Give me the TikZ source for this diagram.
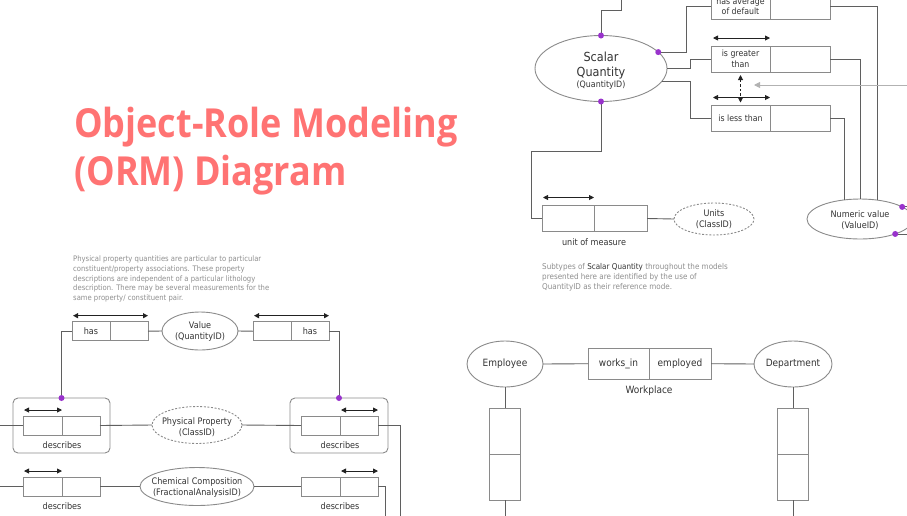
\documentclass[tikz,border=0pt]{standalone}
\usepackage{fontspec}
\setmainfont{DejaVu Sans}[FakeStretch=0.9]
\newfontfamily\titlefont{Open Sans}[FakeStretch=0.9]
\usetikzlibrary{shapes.geometric,arrows.meta}
\definecolor{linec}{HTML}{5F5F5F}
\definecolor{boxc}{HTML}{8A8A8A}
\definecolor{txtc}{HTML}{333333}
\definecolor{notec}{HTML}{8E8E8E}
\definecolor{dotc}{HTML}{9933CC}
\definecolor{titlec}{HTML}{FF7373}
\definecolor{arrc}{HTML}{222222}
\begin{document}
\begin{tikzpicture}[x=1pt,y=-1pt,
 conn/.style={draw=linec, line width=0.9pt},
 cell/.style={draw=boxc, line width=0.9pt, rectangle, inner sep=0pt, outer sep=0pt, text=txtc, font=\fontsize{9}{11}\selectfont, align=center},
 ell/.style={draw=boxc, line width=0.9pt, ellipse, inner sep=0pt, outer sep=0pt},
 dell/.style={ell, dash pattern=on 2pt off 1.6pt},
 lbl/.style={text=txtc, font=\fontsize{9}{11}\selectfont, align=center, inner sep=0pt},
 uarr/.style={draw=arrc, line width=0.9pt, {Triangle[length=5pt,width=5pt]}-{Triangle[length=5pt,width=5pt]}},
 grp/.style={draw=boxc, line width=0.9pt, rounded corners=5pt, rectangle, inner sep=0pt, outer sep=0pt},
 note/.style={text=notec, align=left, inner sep=0pt, anchor=north west},
 titlet/.style={text=titlec, anchor=base west, inner sep=0pt, font=\titlefont\bfseries\fontsize{40}{48}\selectfont},
 dotm/.style={fill=dotc}
]
\useasboundingbox (0,0) rectangle (907,515);
\clip (0,0) rectangle (907,515);

% ---------- title ----------
\node[titlet] (title1) at (74,137) {Object-Role Modeling};
\node[titlet] (title2) at (74,185) {(ORM) Diagram};

% ---------- notes ----------
\node[note, font=\fontsize{7.6}{9.9}\selectfont] (noteL) at (73,255.3) {Physical property quantities are particular to particular\\constituent/property associations. These property\\descriptions are independent of a particular lithology\\description. There may be several measurements for the\\same property/ constituent pair.};
\node[note, font=\fontsize{8}{10}\selectfont] (noteR) at (542,263) {Subtypes of {\color{txtc}Scalar Quantity} throughout the models\\presented here are identified by the use of\\QuantityID as their reference mode.};

% ---------- top right ----------
\node[ell, minimum width=132pt, minimum height=66pt] (sq) at (601,68.5) {};
\node[lbl, anchor=base, font=\fontsize{12.5}{15}\selectfont] (sqt1) at (601,61.5) {Scalar};
\node[lbl, anchor=base, font=\fontsize{12.5}{15}\selectfont] (sqt2) at (601,76.5) {Quantity};
\node[lbl, anchor=base, font=\fontsize{8.8}{10}\selectfont] (sqt3) at (601,87.8) {(QuantityID)};

\node[cell, font=\fontsize{8.7}{10.5}\selectfont, minimum width=59pt, minimum height=26pt] (avg1) at (740.5,6.5) {has average\\of default};
\node[cell, minimum width=60pt, minimum height=26pt] (avg2) at (800,6.5) {};
\node[cell, font=\fontsize{8.7}{10.8}\selectfont, minimum width=59pt, minimum height=26pt] (gt1) at (740.5,59) {is greater\\than};
\node[cell, minimum width=60pt, minimum height=26pt] (gt2) at (800,59) {};
\node[cell, font=\fontsize{8.7}{10.5}\selectfont, minimum width=59pt, minimum height=26pt] (lt1) at (740.5,118.5) {is less than};
\node[cell, minimum width=60pt, minimum height=26pt] (lt2) at (800,118.5) {};

\node[cell, minimum width=52pt, minimum height=26pt] (um1) at (568,218.5) {};
\node[cell, minimum width=53pt, minimum height=26pt] (um2) at (620.5,218.5) {};
\node[lbl] (uml) at (594,242) {unit of measure};
\node[dell, minimum width=80pt, minimum height=32pt] (units) at (714,219) {};
\node[lbl] (unitst) at (714,219.5) {Units\\(ClassID)};

\node[ell, minimum width=106pt, minimum height=40pt] (nv) at (860,219) {};
\node[lbl] (nvt) at (860,220) {Numeric value\\(ValueID)};

\coordinate (topA) at (621.5,10);
\coordinate (topB) at (621.5,-5);
\coordinate (jxA) at (686,0);
\coordinate (jxB) at (690,0);
\coordinate (umA) at (531,151.5);
\coordinate (edgeR) at (915,0);
\coordinate (grA) at (915,85);
\coordinate (grB) at (754,85);

\draw[conn] (sq.north) |- (topA) -- (topB);
\draw[conn] (sq.16) -- (sq.16 -| jxA) |- (avg1.west);
\draw[conn] (sq.east) -- (sq.east -| jxB) |- (gt1.west);
\draw[conn] (sq.-12) -- (sq.-12 -| jxB) |- (lt1.west);
\draw[conn] (avg2.east) -| (nv.48);
\draw[conn] (gt2.east) -| (nv.north);
\draw[conn] (lt2.east) -| (nv.130);
\draw[conn] (sq.south) |- (umA) |- (um1.west);
\draw[conn] (um2.east) -- (units.west);
\draw[conn] (nv.16) -- (nv.16 -| edgeR);
\draw[conn] (nv.-23) -- (nv.-23 -| edgeR);

\draw[uarr] ([shift={(2pt,8pt)}]gt1.north west) -- ([yshift=8pt]gt1.north east);
\draw[uarr] ([shift={(2pt,8pt)}]lt1.north west) -- ([yshift=8pt]lt1.north east);
\draw[uarr] ([shift={(1pt,8pt)}]um1.north west) -- ([yshift=8pt]um1.north east);
\draw[draw=arrc, line width=0.9pt, dash pattern=on 2.5pt off 2pt, {Triangle[length=5pt,width=5pt]}-{Triangle[length=5pt,width=5pt]}] ([yshift=-3pt]gt1.south) -- ([yshift=3pt]lt1.north);
\draw[draw=black!30, line width=0.9pt, -{Triangle[length=6pt,width=6pt]}] (grA) -- (grB);

% ---------- left part ----------
\node[grp, minimum width=97pt, minimum height=55pt] (grpL) at (61.5,425.5) {};
\node[grp, minimum width=98pt, minimum height=55pt] (grpR) at (339,425.5) {};

\node[cell, minimum width=38pt, minimum height=19pt] (hL1) at (91,331.2) {has};
\node[cell, minimum width=38pt, minimum height=19pt] (hL2) at (129,331.2) {};
\node[ell, minimum width=76pt, minimum height=38pt] (value) at (200,331) {};
\node[lbl] (valuet) at (200,332) {Value\\(QuantityID)};
\node[cell, minimum width=38pt, minimum height=19pt] (hR1) at (272,331.2) {};
\node[cell, minimum width=38pt, minimum height=19pt] (hR2) at (310,331.2) {has};

\node[cell, minimum width=39pt, minimum height=19pt] (dL1) at (42.5,425.5) {};
\node[cell, minimum width=38pt, minimum height=19pt] (dL2) at (81,425.5) {};
\node[lbl] (dLl) at (62,445) {describes};
\node[dell, minimum width=90pt, minimum height=37pt] (pp) at (197,425) {};
\node[lbl] (ppt) at (197,427) {Physical Property\\(ClassID)};
\node[cell, minimum width=39pt, minimum height=19pt] (dR1) at (320.5,425.5) {};
\node[cell, minimum width=38pt, minimum height=19pt] (dR2) at (359,425.5) {};
\node[lbl] (dRl) at (340,445) {describes};

\node[cell, minimum width=39pt, minimum height=19pt] (cL1) at (42.5,486.5) {};
\node[cell, minimum width=38pt, minimum height=19pt] (cL2) at (81,486.5) {};
\node[lbl] (cLl) at (62,506) {describes};
\node[ell, minimum width=114pt, minimum height=38pt] (chem) at (197,486.5) {};
\node[lbl] (chemt) at (197,487.5) {Chemical Composition\\(FractionalAnalysisID)};
\node[cell, minimum width=39pt, minimum height=19pt] (cR1) at (320.5,486.5) {};
\node[cell, minimum width=38pt, minimum height=19pt] (cR2) at (359,486.5) {};
\node[lbl] (cRl) at (340,506) {describes};

\coordinate (edgeL) at (-5,0);
\coordinate (botR1) at (400,520);
\coordinate (botR2) at (385,520);

\draw[conn] (hL1.west) -| (grpL.north);
\draw[conn] (hR2.east) -| (grpR.north);
\draw[conn] (hL2.east) -- (value.west);
\draw[conn] (value.east) -- (hR1.west);
\draw[conn] (dL1.west -| edgeL) -- (dL1.west);
\draw[conn] (dL2.east) -- (pp.west);
\draw[conn] (pp.east) -- (dR1.west);
\draw[conn] (dR2.east) -| (botR1);
\draw[conn] (cL1.west -| edgeL) -- (cL1.west);
\draw[conn] (cL2.east) -- (chem.west);
\draw[conn] (chem.east) -- (cR1.west);
\draw[conn] (cR2.east) -| (botR2);

\draw[uarr] ([shift={(1pt,6pt)}]hL1.north west) -- ([yshift=6pt]hL2.north east);
\draw[uarr] ([shift={(1pt,6pt)}]hR1.north west) -- ([yshift=6pt]hR2.north east);
\draw[uarr] ([shift={(1pt,6pt)}]dL1.north west) -- ([yshift=6pt]dL1.north east);
\draw[uarr] ([shift={(1pt,6pt)}]dR2.north west) -- ([yshift=6pt]dR2.north east);
\draw[uarr] ([shift={(1pt,6pt)}]cL1.north west) -- ([yshift=6pt]cL1.north east);
\draw[uarr] ([shift={(1pt,6pt)}]cR2.north west) -- ([yshift=6pt]cR2.north east);

% ---------- bottom right ----------
\node[ell, minimum width=76pt, minimum height=46pt] (emp) at (505,364) {};
\node[lbl, font=\fontsize{10}{12}\selectfont] (empt) at (505,364) {Employee};
\node[cell, font=\fontsize{10}{12}\selectfont, minimum width=61pt, minimum height=31pt] (wk1) at (618.5,363.7) {works\_in};
\node[cell, font=\fontsize{10}{12}\selectfont, minimum width=62pt, minimum height=31pt] (wk2) at (680,363.7) {employed};
\node[lbl, font=\fontsize{10}{12}\selectfont] (wkl) at (649,390.5) {Workplace};
\node[ell, minimum width=78pt, minimum height=46pt] (dept) at (793,364) {};
\node[lbl, font=\fontsize{10}{12}\selectfont] (deptt) at (793,364) {Department};

\node[cell, minimum width=31pt, minimum height=46pt] (ev1) at (505,431) {};
\node[cell, minimum width=31pt, minimum height=46pt] (ev2) at (505,477) {};
\node[cell, minimum width=31pt, minimum height=46pt] (dv1) at (793,431) {};
\node[cell, minimum width=31pt, minimum height=46pt] (dv2) at (793,477) {};
\coordinate (botE) at (0,520);

\draw[conn] (emp.east) -- (wk1.west);
\draw[conn] (wk2.east) -- (dept.west);
\draw[conn] (emp.south) -- (ev1.north);
\draw[conn] (ev2.south) -- (ev2.south |- botE);
\draw[conn] (dept.south) -- (dv1.north);
\draw[conn] (dv2.south) -- (dv2.south |- botE);

% ---------- dots ----------
\foreach \p in {grpL.north, grpR.north, sq.north, sq.16, sq.south, nv.16, nv.-23}
  \fill[dotm] (\p) circle[radius=3pt];
\end{tikzpicture}
\end{document}
